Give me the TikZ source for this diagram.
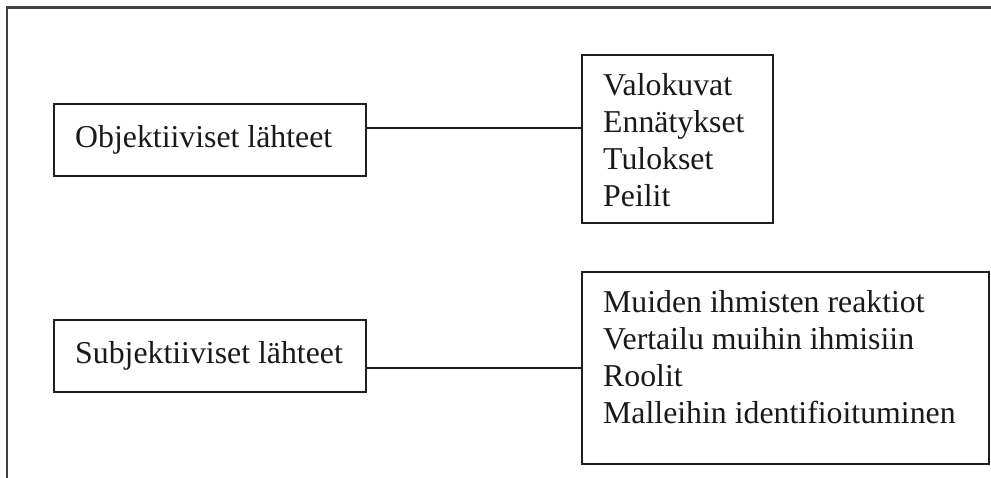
\documentclass[tikz,border=0pt]{standalone}
\usepackage{fontspec}
\setmainfont{Liberation Serif}
\begin{document}
\begin{tikzpicture}[x=1pt, y=-1pt,
  every node/.style={text=black!90},
  box/.style={draw=black!88, line width=1.9pt, rectangle, inner sep=0pt, outer sep=0pt, anchor=north west},
  labeltext/.style={anchor=west, inner sep=0pt, font=\fontsize{31.8}{37}\selectfont},
  listtext/.style={anchor=north west, inner sep=0pt, align=left,
    font=\fontsize{31.8}{37}\selectfont},
  link/.style={draw=black!88, line width=1.9pt}
]
\useasboundingbox (0,0) rectangle (991,478);

% open frame: top and left rules only
\coordinate (frameTL) at (7,7.5);
\coordinate (frameTR) at (991,7.5);
\coordinate (frameBL) at (7,478);
\draw[black!75, line width=2.4pt] (frameTR) -- (frameTL) -- (frameBL);

% objective sources
\node[box, minimum width=312, minimum height=72] (obj) at (54,104) {};
\node[labeltext] (objtext) at ([xshift=21pt]obj.west) {Objektiiviset lähteet};
\node[box, minimum width=191, minimum height=168] (objbox) at (582,55) {};
\node[listtext] (objlist) at (603,73.3) {Valokuvat\\Ennätykset\\Tulokset\\Peilit};

% subjective sources
\node[box, minimum width=312, minimum height=72] (subj) at (54,320) {};
\node[labeltext] (subjtext) at ([xshift=21pt]subj.west) {Subjektiiviset lähteet};
\node[box, minimum width=407, minimum height=192] (subjbox) at (582,272) {};
\node[listtext] (subjlist) at (603,290.3) {Muiden ihmisten reaktiot\\Vertailu muihin ihmisiin\\Roolit\\Malleihin identifioituminen};

% connectors
\draw[link] (obj.east |- 0,128) -- (objbox.west |- 0,128);
\draw[link] (subj.east |- 0,368) -- (subjbox.west |- 0,368);
\end{tikzpicture}
\end{document}
